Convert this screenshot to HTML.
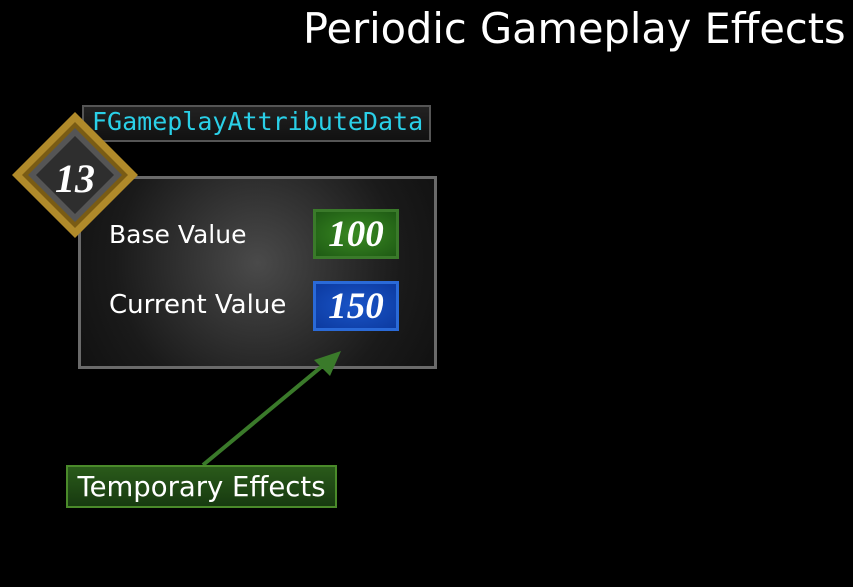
<!DOCTYPE html>
<html><head><style>
body{margin:0;width:853px;height:587px;background:#000;position:relative;overflow:hidden;font-family:"DejaVu Sans","Liberation Sans",sans-serif;color:#fff}
.a{position:absolute}
</style></head><body>
<div class="a" style="left:303px;top:4px;font-size:41.5px;white-space:nowrap">Periodic Gameplay Effects</div>
<div class="a" style="left:82px;top:105px;width:345px;height:33px;border:2px solid #555;background:linear-gradient(#222,#111)"></div>
<div class="a" style="left:92px;top:107px;font-family:'DejaVu Sans Mono','Liberation Mono',monospace;font-size:25px;color:#2ad0e8;white-space:nowrap">FGameplayAttributeData</div>
<div class="a" style="left:78px;top:176px;width:353px;height:187px;border:3px solid #6a6a6a;background:radial-gradient(circle at 50% 45%,#4a4a4a,#1a1a1a 70%,#111)"></div>
<div class="a" style="left:109px;top:220px;font-size:25px;white-space:nowrap">Base Value</div>
<div class="a" style="left:109px;top:290px;font-size:26px;white-space:nowrap">Current Value</div>
<div class="a" style="left:313px;top:209px;width:80px;height:44px;border:3px solid #3a7a2a;background:radial-gradient(#3a8a22,#1e5a14);font-family:'Liberation Serif',serif;font-style:italic;font-weight:bold;font-size:37px;text-align:center;line-height:46px">100</div>
<div class="a" style="left:313px;top:281px;width:80px;height:44px;border:3px solid #2a6ad8;background:radial-gradient(#1a55c8,#0c3aa0);font-family:'Liberation Serif',serif;font-style:italic;font-weight:bold;font-size:37px;text-align:center;line-height:46px">150</div>
<svg class="a" style="left:0;top:0" width="853" height="587">
<polygon points="75,112 138,175 75,238 12,175" fill="#b08a2a"/>
<polygon points="75,122 128,175 75,228 22,175" fill="#7a5c14"/>
<polygon points="75,128 122,175 75,222 28,175" fill="#555"/>
<polygon points="75,136 114,175 75,214 36,175" fill="#2e2e2e"/>
<text x="75" y="192" text-anchor="middle" font-family="Liberation Serif,serif" font-style="italic" font-weight="bold" font-size="40" fill="#fff">13</text>
<line x1="203" y1="465" x2="326" y2="363" stroke="#3a7a2a" stroke-width="4"/>
<polygon points="341,351 314,360 330,376" fill="#3a7a2a"/>
</svg>
<div class="a" style="left:66px;top:465px;width:267px;height:39px;border:2px solid #4a8a2a;background:linear-gradient(#2a5a1a,#173a10);font-size:27.5px;line-height:41px;text-align:center;white-space:nowrap">Temporary Effects</div>
</body></html>
